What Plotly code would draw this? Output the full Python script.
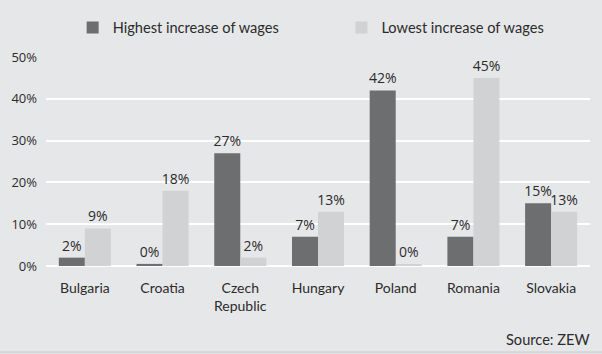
import plotly.graph_objects as go

categories = ["Bulgaria", "Croatia", "Czech<br>Republic", "Hungary", "Poland", "Romania", "Slovakia"]
highest = [2, 0.5, 27, 7, 42, 7, 15]
lowest = [9, 18, 2, 13, 0.3, 45, 13]
highest_labels = ["2%", "0%", "27%", "7%", "42%", "7%", "15%"]
lowest_labels = ["9%", "18%", "2%", "13%", "0%", "45%", "13%"]
tick_vals = [0, 10, 20, 30, 40, 50]
tick_text = ["0%", "10%", "20%", "30%", "40%", "50%"]

BG = "#e6e7e9"
DARK = "#6d6e70"
LIGHT = "#d1d2d4"
TXT = "#2b2b2b"

fig = go.Figure()
fig.add_trace(go.Bar(
    x=categories, y=highest, name="Highest increase of wages",
    marker=dict(color=DARK, line=dict(width=0)),
    text=highest_labels, textposition="outside", cliponaxis=False,
    constraintext="none",
    textfont=dict(family="Open Sans", size=14, color=TXT),
    legend="legend", showlegend=True,
))
fig.add_trace(go.Bar(
    x=categories, y=lowest, name="Lowest increase of wages",
    marker=dict(color=LIGHT, line=dict(width=0)),
    text=lowest_labels, textposition="outside", cliponaxis=False,
    constraintext="none",
    textfont=dict(family="Open Sans", size=14, color=TXT),
    legend="legend2", showlegend=True,
))

leg_common = dict(
    orientation="h", xanchor="left", yref="container", y=0.922, yanchor="middle",
    font=dict(family="Lato", size=14.6, color=TXT),
    bgcolor="rgba(0,0,0,0)", itemclick=False,
)

fig.update_layout(
    width=602, height=354,
    showlegend=True,
    margin=dict(l=46, r=12, t=57, b=88, autoexpand=False),
    paper_bgcolor=BG, plot_bgcolor=BG,
    barmode="group", bargap=0.33, bargroupgap=0,
    font=dict(family="Lato", size=14, color=TXT),
    legend=dict(x=0.049, **leg_common),
    legend2=dict(x=0.543, **leg_common),
    xaxis=dict(showgrid=False, showline=False, ticks="", zeroline=False,
               ticklabelstandoff=12,
               tickfont=dict(family="Lato", size=14, color=TXT)),
    yaxis=dict(range=[0, 50], tickvals=tick_vals, ticktext=tick_text,
               showgrid=True, gridcolor="#ffffff", gridwidth=1.5,
               zeroline=True, zerolinecolor="#ffffff", zerolinewidth=1.5,
               showline=False, ticks="", ticklabelstandoff=8,
               tickfont=dict(family="Open Sans", size=13, color=TXT)),
    annotations=[dict(
        text="Source: ZEW", xref="paper", yref="paper", x=1.003, y=-0.353,
        xanchor="right", yanchor="middle", showarrow=False,
        font=dict(family="Lato", size=14.6, color=TXT),
    )],
    shapes=[dict(type="line", xref="paper", yref="paper", x0=-0.2, x1=1.2,
                 y0=-0.413, y1=-0.413, line=dict(color="#d4d5d7", width=2))],
)

fig.write_html("out.html")
